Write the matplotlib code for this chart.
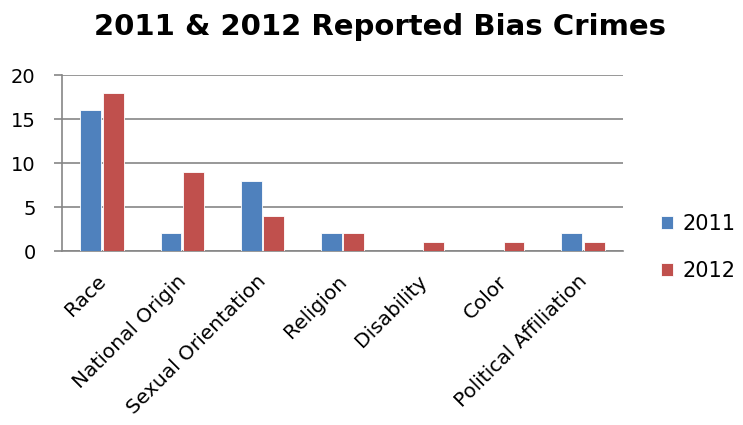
import matplotlib.pyplot as plt
import matplotlib.transforms as mtransforms
import numpy as np

categories = ["Race", "National Origin", "Sexual Orientation", "Religion",
              "Disability", "Color", "Political Affiliation"]
crimes_2011 = [16, 2, 8, 2, 0, 0, 2]
crimes_2012 = [18, 9, 4, 2, 1, 1, 1]

blue = "#4F81BD"
red = "#C0504D"
grid_grey = "#868686"

plt.rcParams["font.family"] = ["DejaVu Sans"]

fig = plt.figure(figsize=(7.43, 4.25), dpi=100)
ax = fig.add_axes([0.0834, 0.4094, 0.7551, 0.4141])

x = np.arange(len(categories))
w = 0.26
ax.bar(x - 0.14, crimes_2011, w, color=blue, edgecolor="white", linewidth=0.6, label="2011", zorder=3)
ax.bar(x + 0.14, crimes_2012, w, color=red, edgecolor="white", linewidth=0.6, label="2012", zorder=3)

ax.set_xlim(-0.5, len(categories) - 0.5)
ax.set_ylim(0, 20)
ax.set_yticks([0, 5, 10, 15, 20])
ax.yaxis.grid(True, color=grid_grey, linewidth=1.2, zorder=0)
ax.set_axisbelow(True)

for side in ["top", "right"]:
    ax.spines[side].set_visible(False)
for side in ["left", "bottom"]:
    ax.spines[side].set_color(grid_grey)
    ax.spines[side].set_linewidth(1.2)

ax.tick_params(axis="y", length=6, color=grid_grey, width=1.2, labelsize=14, pad=13)
ax.tick_params(axis="x", length=0, labelsize=14.5, pad=15)
ax.set_xticks(x)
ax.set_xticklabels(categories, rotation=45, ha="right", rotation_mode="anchor")
# nudge the slanted category labels a few pixels left
shift = mtransforms.ScaledTranslation(-4 / 72, 0, fig.dpi_scale_trans)
for lbl in ax.get_xticklabels():
    lbl.set_transform(lbl.get_transform() + shift)

fig.suptitle("2011 & 2012 Reported Bias Crimes", fontsize=21, fontweight="bold", x=0.511, y=0.97)

ax.legend(loc="center left", bbox_to_anchor=(1.035, 0.02), frameon=False, fontsize=15,
          handlelength=0.55, handleheight=0.55, handletextpad=0.45, labelspacing=1.3)

fig.savefig("out.png", dpi=100)
